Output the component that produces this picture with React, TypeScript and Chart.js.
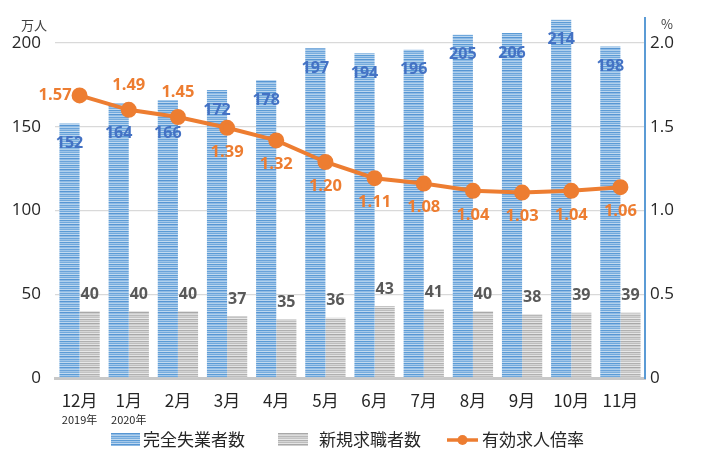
import React, { useEffect, useRef } from 'react';
import { Chart, registerables } from 'chart.js';
Chart.register(...registerables);

const months = ['12月', '1月', '2月', '3月', '4月', '5月', '6月', '7月', '8月', '9月', '10月', '11月'];
const yearNotes = ['2019年', '2020年', '', '', '', '', '', '', '', '', '', ''];
const unemployed = [152, 164, 166, 172, 178, 197, 194, 196, 205, 206, 214, 198];
const jobSeekers = [40, 40, 40, 37, 35, 36, 43, 41, 40, 38, 39, 39];
const jobRatio = [1.57, 1.49, 1.45, 1.39, 1.32, 1.2, 1.11, 1.08, 1.04, 1.03, 1.04, 1.06];
const leftTicks = [0, 50, 100, 150, 200];
const rightTicks = [0, 0.5, 1.0, 1.5, 2.0];
const seriesNames = ['完全失業者数', '新規求職者数', '有効求人倍率'];

const NUM_FONT = '"Open Sans", "Liberation Sans", sans-serif';
const JP_FONT = '"Noto Sans CJK JP", "Noto Sans", sans-serif';
const BLUE = '#5b9bd5';
const ORANGE = '#ed7d31';

function makePattern(colors: string[]): CanvasPattern | string {
  const c = document.createElement('canvas');
  c.width = 4;
  c.height = colors.length;
  const g = c.getContext('2d');
  if (!g) return colors[0];
  colors.forEach((col, i) => {
    g.fillStyle = col;
    g.fillRect(0, i, 4, 1);
  });
  return g.createPattern(c, 'repeat') || colors[0];
}

export default function App() {
  const ref = useRef<HTMLCanvasElement>(null);
  useEffect(() => {
    document.body.style.margin = '0';
    if (!ref.current) return;
    const bluePat = makePattern([
      '#5b9bd5', '#a4c8ea', '#6fa8dc', '#bcd6ef', '#5796d3', '#8fbbe5', '#b0d0ec', '#6aa3da', '#9ec4e8', '#78addd', '#c2daf0',
    ]);
    const grayPat = makePattern([
      '#b0b0b0', '#d6d6d6', '#bdbdbd', '#e4e4e4', '#a8a8a8', '#cfcfcf', '#dcdcdc', '#b8b8b8', '#d2d2d2', '#c4c4c4', '#e8e8e8',
    ]);

    const blueDrop = [0, 10, 13, 0, 0, 0, 0, 0, 0, 0, 0, 0];
    const ratioPos = ['left', 'above', 'above', 'below', 'below', 'below', 'below', 'below', 'below', 'below', 'below', 'below'];

    const labelPlugin = {
      id: 'labels',
      afterDatasetsDraw(chart: any) {
        const ctx = chart.ctx;
        ctx.save();
        ctx.textAlign = 'center';
        ctx.textBaseline = 'middle';
        const m0 = chart.getDatasetMeta(1);
        const m1 = chart.getDatasetMeta(2);
        const ml = chart.getDatasetMeta(0);
        ctx.font = `bold 16px ${NUM_FONT}`;
        m0.data.forEach((el: any, i: number) => {
          ctx.fillStyle = '#4472c4';
          ctx.fillText(String(unemployed[i]), el.x, el.y + 20 + blueDrop[i]);
        });
        m1.data.forEach((el: any, i: number) => {
          ctx.fillStyle = '#595959';
          ctx.fillText(String(jobSeekers[i]), el.x, el.y - 17);
        });
        ctx.font = `bold 16.5px ${NUM_FONT}`;
        ml.data.forEach((el: any, i: number) => {
          ctx.fillStyle = ORANGE;
          const t = jobRatio[i].toFixed(2);
          const p = ratioPos[i];
          if (p === 'left') {
            ctx.textAlign = 'right';
            ctx.fillText(t, el.x - 8, el.y);
            ctx.textAlign = 'center';
          } else if (p === 'above') {
            ctx.fillText(t, el.x, el.y - 25);
          } else {
            ctx.fillText(t, el.x, el.y + 24);
          }
        });
        ctx.restore();
      },
      afterDraw(chart: any) {
        const ctx = chart.ctx;
        ctx.save();
        ctx.fillStyle = '#404040';
        ctx.font = `13px ${JP_FONT}`;
        ctx.textBaseline = 'middle';
        ctx.textAlign = 'left';
        ctx.fillText('万人', 21, 25);
        ctx.fillText('%', 661, 24);
        const xs = chart.scales.x;
        ctx.textAlign = 'center';
        ctx.fillStyle = '#262626';
        ctx.font = `11px ${JP_FONT}`;
        yearNotes.forEach((n, i) => {
          if (n) ctx.fillText(n, xs.getPixelForValue(i), 420);
        });
        const ly = 440;
        ctx.font = `17px ${JP_FONT}`;
        ctx.textAlign = 'left';
        ctx.fillStyle = bluePat as any;
        ctx.fillRect(111, 433, 29, 13);
        ctx.fillStyle = '#262626';
        ctx.fillText(seriesNames[0], 143, ly);
        ctx.fillStyle = grayPat as any;
        ctx.fillRect(278, 433, 30, 13);
        ctx.fillStyle = '#262626';
        ctx.fillText(seriesNames[1], 319, ly);
        ctx.strokeStyle = ORANGE;
        ctx.lineWidth = 3.5;
        ctx.beginPath();
        ctx.moveTo(447, ly);
        ctx.lineTo(478, ly);
        ctx.stroke();
        ctx.fillStyle = ORANGE;
        ctx.beginPath();
        ctx.arc(462.5, ly, 5, 0, Math.PI * 2);
        ctx.fill();
        ctx.fillStyle = '#262626';
        ctx.fillText(seriesNames[2], 482, ly);
        ctx.restore();
      },
    };

    const chart = new Chart(ref.current, {
      type: 'bar',
      data: {
        labels: months,
        datasets: [
          {
            type: 'line',
            label: seriesNames[2],
            data: jobRatio,
            yAxisID: 'y2',
            borderColor: ORANGE,
            backgroundColor: ORANGE,
            borderWidth: 4,
            pointRadius: 6,
            pointBackgroundColor: ORANGE,
            pointBorderColor: ORANGE,
            tension: 0,
            order: 0,
          } as any,
          {
            type: 'bar',
            label: seriesNames[0],
            data: unemployed,
            yAxisID: 'y',
            backgroundColor: bluePat as any,
            borderWidth: 0,
            categoryPercentage: 0.82,
            barPercentage: 1,
            order: 1,
          },
          {
            type: 'bar',
            label: seriesNames[1],
            data: jobSeekers,
            yAxisID: 'y',
            backgroundColor: grayPat as any,
            borderWidth: 0,
            categoryPercentage: 0.82,
            barPercentage: 1,
            order: 1,
          },
        ],
      },
      options: {
        animation: false,
        responsive: false,
        maintainAspectRatio: false,
        layout: { padding: { top: 18, left: 0, right: 0, bottom: 0 } },
        plugins: { legend: { display: false }, tooltip: { enabled: false } },
        scales: {
          x: {
            grid: { display: false, drawTicks: false },
            border: { display: true, color: '#c8c8c8', width: 3 },
            ticks: { color: '#262626', font: { family: JP_FONT, size: 17 }, padding: 12, maxRotation: 0, autoSkip: false },
            afterFit: (s: any) => { s.height = 87; },
          },
          y: {
            position: 'left',
            min: 0,
            max: 215,
            afterBuildTicks: (a: any) => { a.ticks = leftTicks.map((v) => ({ value: v })); },
            grid: { color: '#d9d9d9', drawTicks: false, lineWidth: 1.3 },
            border: { display: false },
            ticks: { color: '#262626', font: { family: NUM_FONT, size: 17 }, padding: 14 },
            afterFit: (s: any) => { s.width = 55; s.paddingTop = 0; s.paddingBottom = 0; },
          },
          y1: {
            position: 'right',
            min: 0,
            max: 2.15,
            afterBuildTicks: (a: any) => { a.ticks = rightTicks.map((v) => ({ value: v })); },
            grid: { display: false, drawTicks: false },
            border: { display: true, color: BLUE, width: 2 },
            ticks: {
              color: '#262626',
              font: { family: NUM_FONT, size: 17 },
              padding: 5,
              callback: (v: any) => (v === 0 ? '0' : Number(v).toFixed(1)),
            },
            afterFit: (s: any) => { s.width = 59; s.paddingTop = 0; s.paddingBottom = 0; },
          },
          y2: { display: false, min: 0, max: 2 },
        },
      } as any,
      plugins: [labelPlugin],
    });
    return () => chart.destroy();
  }, []);
  return (
    <div style={{ position: 'relative', width: 704, height: 465 }}>
      <canvas ref={ref} width={704} height={465} style={{ width: 704, height: 465 }} />
    </div>
  );
}
